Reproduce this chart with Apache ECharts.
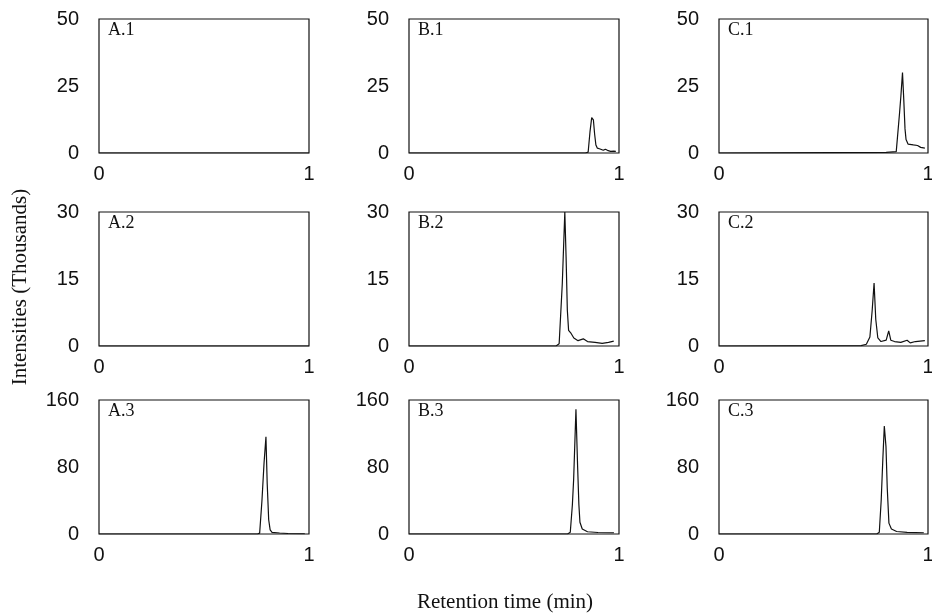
<!DOCTYPE html>
<html>
<head>
<meta charset="utf-8">
<script src="https://cdn.jsdelivr.net/npm/echarts@6/dist/echarts.min.js"></script>
<style>
  html, body { margin: 0; padding: 0; background: #fff; }
  #chart { width: 932px; height: 615px; }
</style>
</head>
<body>
<div id="chart"></div>
<script>
// Chromatogram traces: [retention time (min), intensity (thousands)]
const traceA1 = [[0, 0], [1, 0]];
const traceB1 = [[0, 0], [0.84, 0], [0.853, 0.3], [0.862, 8], [0.870, 13.2], [0.878, 12.4],
  [0.884, 7], [0.890, 3], [0.897, 1.8], [0.91, 1.5], [0.925, 1.0], [0.935, 1.4],
  [0.945, 1.0], [0.96, 0.6], [0.975, 0.7], [0.985, 0.6]];
const traceC1 = [[0, 0], [0.80, 0.2], [0.848, 0.5], [0.855, 1], [0.864, 15], [0.870, 21],
  [0.878, 30], [0.884, 20], [0.890, 9], [0.895, 5], [0.905, 3.3], [0.93, 3],
  [0.95, 2.8], [0.965, 2.1], [0.985, 1.8]];

const traceA2 = [[0, 0], [1, 0]];
const traceB2 = [[0, 0], [0.70, 0], [0.715, 0.5], [0.730, 14], [0.742, 30], [0.748, 20],
  [0.754, 8], [0.760, 3.5], [0.772, 2.8], [0.785, 1.8], [0.805, 1.2], [0.83, 1.6],
  [0.85, 1.0], [0.886, 0.8], [0.92, 0.6], [0.95, 0.8], [0.975, 1.1]];
const traceC2 = [[0, 0], [0.68, 0.1], [0.705, 0.4], [0.722, 2], [0.733, 8], [0.742, 14.1],
  [0.750, 6], [0.760, 1.8], [0.775, 1.0], [0.800, 1.3], [0.812, 3.4], [0.822, 1.3],
  [0.84, 1.0], [0.87, 0.8], [0.90, 1.3], [0.915, 0.7], [0.94, 1.0], [0.985, 1.2]];

const traceA3 = [[0, 0], [0.755, 0], [0.765, 1], [0.776, 40], [0.786, 85], [0.795, 116],
  [0.801, 60], [0.808, 17], [0.815, 5], [0.824, 2], [0.86, 1.2], [0.90, 0.6], [0.98, 0.3]];
const traceB3 = [[0, 0], [0.755, 0], [0.768, 2], [0.778, 35], [0.784, 65], [0.795, 149],
  [0.803, 80], [0.809, 35], [0.814, 14], [0.825, 6], [0.85, 2.7], [0.90, 1.8], [0.976, 1.5]];
const traceC3 = [[0, 0], [0.755, 0], [0.767, 2], [0.776, 40], [0.784, 90], [0.791, 129],
  [0.799, 104], [0.805, 55], [0.813, 13], [0.825, 6], [0.85, 3], [0.90, 2], [0.98, 1.5]];

const panelLabels = ['A.1', 'B.1', 'C.1', 'A.2', 'B.2', 'C.2', 'A.3', 'B.3', 'C.3'];
const panelTraces = [traceA1, traceB1, traceC1, traceA2, traceB2, traceC2, traceA3, traceB3, traceC3];
const rowMax = [50, 30, 160];
const rowStep = [25, 15, 80];
const xTicks = [0, 1];
const yTitle = 'Intensities (Thousands)';
const xTitle = 'Retention time (min)';

// Panel layout (pixels)
const colLeft = [99, 409, 719];
const colWidth = [210, 210, 209];
const rowTop = [19, 212, 400];
const rowHeight = 134;

const serif = '"Liberation Serif", "DejaVu Serif", serif';
const sans = '"Liberation Sans", Arial, sans-serif';

const grids = [], xAxes = [], yAxes = [], series = [], titles = [];
panelTraces.forEach(function (trace, i) {
  const r = Math.floor(i / 3), c = i % 3;
  grids.push({
    left: colLeft[c], top: rowTop[r], width: colWidth[c], height: rowHeight,
    containLabel: false, outerBoundsMode: 'none',
    show: true, borderColor: '#111', borderWidth: 1.2, backgroundColor: 'transparent'
  });
  xAxes.push({
    type: 'value', gridIndex: i, min: xTicks[0], max: xTicks[xTicks.length - 1], interval: 1,
    axisLine: { show: false }, axisTick: { show: false }, splitLine: { show: false },
    axisLabel: { color: '#111', fontFamily: sans, fontSize: 20, margin: 11 }
  });
  yAxes.push({
    type: 'value', gridIndex: i, min: 0, max: rowMax[r], interval: rowStep[r],
    axisLine: { show: false }, axisTick: { show: false }, splitLine: { show: false },
    axisLabel: { color: '#111', fontFamily: sans, fontSize: 20, margin: 20 }
  });
  series.push({
    type: 'line', xAxisIndex: i, yAxisIndex: i, data: trace,
    showSymbol: false, symbol: 'none', silent: true,
    lineStyle: { color: '#111', width: 1.2 }
  });
  titles.push({
    text: panelLabels[i], left: colLeft[c] + 9, top: rowTop[r] + 2,
    textStyle: { fontFamily: serif, fontSize: 18, fontWeight: 'normal', color: '#111' },
    padding: 0
  });
});

const chart = echarts.init(document.getElementById('chart'), null, { renderer: 'canvas' });
chart.setOption({
  animation: false,
  backgroundColor: '#fff',
  title: titles,
  grid: grids,
  xAxis: xAxes,
  yAxis: yAxes,
  series: series,
  graphic: [
    {
      type: 'text', x: 20, y: 287, rotation: Math.PI / 2,
      style: { text: yTitle, font: '21px ' + serif, fill: '#111', textAlign: 'center', textVerticalAlign: 'middle' }
    },
    {
      type: 'text', x: 505, y: 602,
      style: { text: xTitle, font: '21px ' + serif, fill: '#111', textAlign: 'center', textVerticalAlign: 'middle' }
    }
  ]
});
</script>
</body>
</html>
